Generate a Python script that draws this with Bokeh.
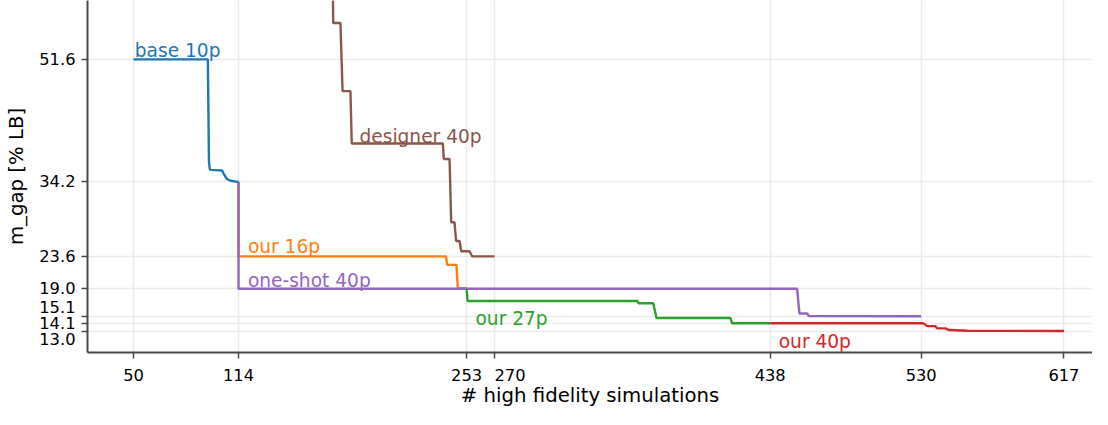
from bokeh.plotting import figure
from bokeh.models import Range1d, FixedTicker, PrintfTickFormatter, Label
from bokeh.embed import file_html
from bokeh.resources import INLINE

# ---- data ----
base_x = [50, 95.3, 96.0, 96.5, 97.0, 104.0, 104.8, 106.1, 107.0, 109.1, 113.2, 114]
base_y = [51.6, 51.6, 37.0, 36.0, 35.9, 35.8, 35.4, 34.9, 34.6, 34.35, 34.2, 34.2]

our16_x = [114, 114, 240.4, 241.2, 246.8, 247.6, 253]
our16_y = [34.2, 23.6, 23.6, 22.4, 22.4, 19.1, 19.1]

oneshot_x = [114, 114, 454.4, 455.8, 460.5, 461.5, 530]
oneshot_y = [34.2, 19.0, 19.0, 15.5, 15.5, 15.12, 15.1]

our27_x = [253, 253.6, 356.9, 357.9, 366.7, 368.7, 413.8, 414.8, 438]
our27_y = [19.0, 17.26, 17.26, 16.95, 16.95, 14.85, 14.85, 14.1, 14.1]

our40_x = [438, 530.6, 531.6, 533.7, 538.7, 539.7, 544.8, 546.9, 558.0, 617]
our40_y = [14.1, 14.1, 14.05, 13.7, 13.7, 13.38, 13.38, 13.15, 13.05, 13.0]

designer_x = [171.5, 171.7, 176.1, 177.4, 182.2, 183.0, 238.5, 239.1, 242.6, 243.6,
              245.6, 246.6, 248.7, 249.7, 254.8, 256.4, 270]
designer_y = [62, 56.76, 56.76, 47.08, 47.08, 39.64, 39.64, 37.45, 37.45, 28.45,
              28.45, 25.8, 25.8, 24.34, 24.34, 23.6, 23.6]

x_ticks = [50, 114, 253, 270, 438, 530, 617]
y_ticks = [13.0, 14.1, 15.1, 19.0, 23.6, 34.2, 51.6]

series_names = ["base 10p", "our 16p", "one-shot 40p", "our 27p", "our 40p", "designer 40p"]
label_x = [50.8, 119.7, 119.7, 258.4, 443.2, 187.7]
label_y = [52.8, 25.0, 20.23, 14.75, 11.56, 40.64]

colors = {
    "base 10p": "#1f77b4",
    "our 16p": "#ff7f0e",
    "one-shot 40p": "#9467bd",
    "our 27p": "#2ca02c",
    "our 40p": "#d62728",
    "designer 40p": "#8c564b",
}

FONT = "DejaVu Sans"
AXIS_COLOR = "#4a4a4a"

p = figure(width=1092, height=409,
           x_range=Range1d(21.97, 634.4), y_range=Range1d(9.95, 59.96),
           output_backend="svg", toolbar_location=None,
           min_border_left=87, min_border_right=0, min_border_top=0,
           min_border_bottom=50)
p.outline_line_color = None
p.background_fill_color = "white"
p.border_fill_color = "white"

# grid
for g in (p.xgrid, p.ygrid):
    g.grid_line_color = "#ebebeb"
    g.grid_line_width = 1.5

# axes
p.xaxis.ticker = FixedTicker(ticks=x_ticks)
p.yaxis.ticker = FixedTicker(ticks=y_ticks)
p.yaxis.formatter = PrintfTickFormatter(format="%.1f")
# crowded low ticks: one stacked label block centred on the middle tick
p.yaxis.major_label_overrides = {15.1: "", 13.0: "", 14.1: "15.1\n14.1\n13.0"}
p.yaxis.major_label_text_line_height = 0.85
p.xaxis.major_label_overrides = {270: "\u2007\u2007\u2007270"}
for ax in (p.xaxis, p.yaxis):
    ax.axis_line_color = AXIS_COLOR
    ax.axis_line_width = 2
    ax.major_tick_line_color = AXIS_COLOR
    ax.major_tick_line_width = 1.5
    ax.major_tick_out = 6
    ax.major_tick_in = 0
    ax.minor_tick_line_color = None
    ax.major_label_text_font = FONT
    ax.major_label_text_font_size = "16.3px"
    ax.major_label_text_color = "black"
    ax.axis_label_text_font = FONT
    ax.axis_label_text_font_size = "19.7px"
    ax.axis_label_text_font_style = "normal"
    ax.axis_label_text_color = "black"
p.yaxis.major_label_standoff = 6
p.xaxis.major_label_standoff = 7
p.xaxis.axis_label = "# high fidelity simulations"
p.xaxis.axis_label_standoff = -4
p.yaxis.axis_label = "m_gap [% LB]"
p.yaxis.axis_label_standoff = 8

# lines
LW = 2.4
p.line(our16_x, our16_y, line_color=colors["our 16p"], line_width=LW)
p.line(oneshot_x, oneshot_y, line_color=colors["one-shot 40p"], line_width=LW)
p.line(base_x, base_y, line_color=colors["base 10p"], line_width=LW)
p.line(our27_x, our27_y, line_color=colors["our 27p"], line_width=LW)
p.line(our40_x, our40_y, line_color=colors["our 40p"], line_width=LW)
p.line(designer_x, designer_y, line_color=colors["designer 40p"], line_width=LW)

# series labels
for name, lx, ly in zip(series_names, label_x, label_y):
    p.add_layout(Label(x=lx, y=ly, text=name, text_font=FONT, text_font_size="18.6px",
                       text_color=colors[name], text_align="left",
                       text_baseline="alphabetic"))

open("out.html", "w").write(file_html(p, INLINE))
